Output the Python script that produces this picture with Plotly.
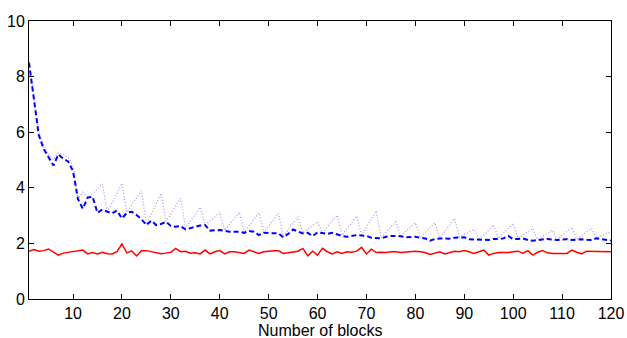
import plotly.graph_objects as go

blocks = list(range(1, 121))

red_solid = [
    1.72, 1.78, 1.72, 1.74, 1.80, 1.68, 1.58, 1.65, 1.68, 1.70,
    1.72, 1.76, 1.62, 1.67, 1.62, 1.68, 1.63, 1.62, 1.70, 1.98,
    1.66, 1.73, 1.55, 1.74, 1.74, 1.71, 1.66, 1.63, 1.65, 1.68,
    1.82, 1.70, 1.72, 1.65, 1.66, 1.62, 1.76, 1.62, 1.70, 1.74,
    1.62, 1.70, 1.70, 1.66, 1.64, 1.76, 1.70, 1.64, 1.70, 1.73,
    1.74, 1.74, 1.64, 1.66, 1.70, 1.72, 1.82, 1.55, 1.72, 1.58,
    1.82, 1.70, 1.62, 1.70, 1.64, 1.70, 1.68, 1.72, 1.86, 1.62,
    1.79, 1.67, 1.68, 1.67, 1.70, 1.70, 1.67, 1.68, 1.70, 1.72,
    1.70, 1.67, 1.60, 1.65, 1.70, 1.62, 1.66, 1.72, 1.70, 1.74,
    1.70, 1.64, 1.70, 1.76, 1.58, 1.64, 1.67, 1.67, 1.67, 1.70,
    1.72, 1.64, 1.74, 1.58, 1.68, 1.74, 1.66, 1.64, 1.65, 1.64,
    1.64, 1.76, 1.68, 1.62, 1.72, 1.72, 1.70, 1.70, 1.72, 1.70,
]

blue_dashed = [
    8.50, 7.10, 5.90, 5.40, 5.10, 4.80, 5.20, 5.05, 4.95, 4.60,
    3.60, 3.25, 3.65, 3.68, 3.10, 3.22, 3.14, 3.08, 3.18, 2.90,
    3.10, 3.14, 3.02, 2.87, 2.66, 2.82, 2.66, 2.70, 2.78, 2.63,
    2.60, 2.62, 2.50, 2.56, 2.60, 2.64, 2.66, 2.46, 2.48, 2.48,
    2.45, 2.42, 2.42, 2.42, 2.38, 2.45, 2.42, 2.30, 2.38, 2.38,
    2.38, 2.36, 2.22, 2.34, 2.50, 2.42, 2.36, 2.38, 2.26, 2.40,
    2.36, 2.34, 2.38, 2.32, 2.27, 2.24, 2.26, 2.30, 2.28, 2.27,
    2.20, 2.19, 2.18, 2.24, 2.27, 2.27, 2.26, 2.22, 2.23, 2.24,
    2.20, 2.18, 2.10, 2.16, 2.18, 2.17, 2.17, 2.20, 2.22, 2.22,
    2.15, 2.15, 2.15, 2.13, 2.12, 2.16, 2.16, 2.18, 2.27, 2.15,
    2.16, 2.18, 2.12, 2.10, 2.12, 2.14, 2.16, 2.14, 2.12, 2.14,
    2.15, 2.12, 2.14, 2.15, 2.13, 2.12, 2.18, 2.15, 2.13, 2.10,
]

purple_dotted = [
    8.55, 7.20, 6.00, 5.50, 5.20, 5.00, 5.25, 5.20, 5.10, 4.80,
    3.60, 3.84, 3.66, 3.80, 3.95, 4.14, 3.16, 3.45, 3.80, 4.16,
    3.12, 3.40, 3.65, 3.90, 2.70, 3.05, 3.40, 3.80, 2.80, 3.05,
    3.35, 3.62, 2.55, 2.80, 3.05, 3.30, 2.66, 2.80, 2.95, 3.12,
    2.47, 2.68, 2.90, 3.12, 2.40, 2.62, 2.86, 3.10, 2.40, 2.62,
    2.85, 3.08, 2.25, 2.50, 2.75, 2.96, 2.38, 2.52, 2.65, 2.78,
    2.38, 2.58, 2.80, 3.02, 2.29, 2.52, 2.76, 2.99, 2.30, 2.58,
    2.88, 3.17, 2.20, 2.40, 2.60, 2.78, 2.28, 2.44, 2.60, 2.74,
    2.22, 2.40, 2.56, 2.74, 2.20, 2.42, 2.66, 2.90, 2.24, 2.32,
    2.40, 2.50, 2.17, 2.30, 2.48, 2.66, 2.18, 2.36, 2.54, 2.72,
    2.18, 2.30, 2.42, 2.54, 2.14, 2.26, 2.38, 2.48, 2.14, 2.28,
    2.44, 2.58, 2.15, 2.28, 2.42, 2.54, 2.19, 2.28, 2.36, 2.42,
]

x_ticks = [10, 20, 30, 40, 50, 60, 70, 80, 90, 100, 110, 120]
y_ticks = [0, 2, 4, 6, 8, 10]
x_title = "Number of blocks"

FONT = "Liberation Sans, Arial, Helvetica, sans-serif"

fig = go.Figure()
fig.add_trace(go.Scatter(x=blocks, y=purple_dotted, mode="lines",
                         line=dict(color="rgb(175,140,255)", width=1.2, dash="1px,2px"),
                         showlegend=False))
fig.add_trace(go.Scatter(x=blocks, y=blue_dashed, mode="lines",
                         line=dict(color="rgb(0,0,255)", width=2, dash="5px,3px"),
                         showlegend=False))
fig.add_trace(go.Scatter(x=blocks, y=red_solid, mode="lines",
                         line=dict(color="rgb(255,0,0)", width=1.5),
                         showlegend=False))

axis_common = dict(
    showline=True, linecolor="black", linewidth=1, mirror="ticks",
    ticks="inside", ticklen=5, tickcolor="black", tickwidth=1,
    showgrid=False, zeroline=False, automargin=False,
    tickfont=dict(family=FONT, size=16, color="black"),
)

fig.update_layout(
    width=627, height=338,
    margin=dict(l=29, r=16, t=21, b=39),
    paper_bgcolor="white", plot_bgcolor="white",
    xaxis=dict(range=[1, 120], tickvals=x_ticks, **axis_common),
    yaxis=dict(range=[0, 10], tickvals=y_ticks, **axis_common),
    annotations=[dict(text=x_title, xref="paper", yref="paper",
                      x=0.5, y=-0.113, xanchor="center", yanchor="middle",
                      showarrow=False,
                      font=dict(family=FONT, size=16, color="black"))],
)

fig.write_html("out.html")
